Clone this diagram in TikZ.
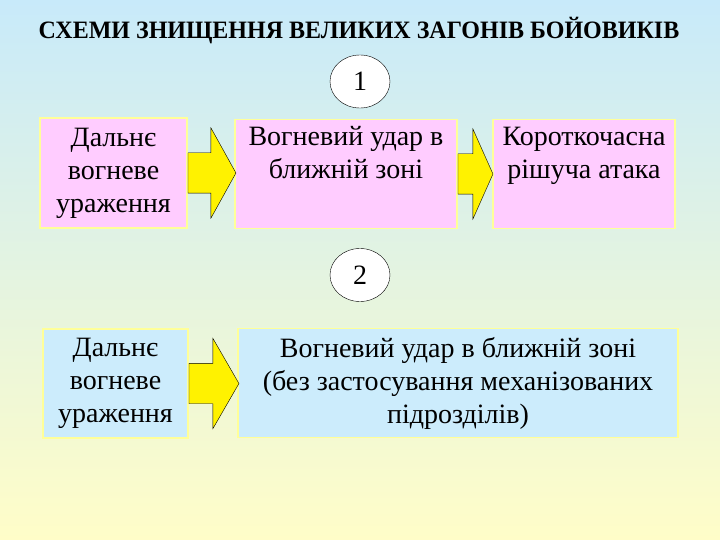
\documentclass[tikz,border=0pt]{standalone}
\usepackage{fontspec}
\setmainfont{Liberation Serif}
\usetikzlibrary{shapes.arrows,shapes.geometric}

\definecolor{bgtop}{RGB}{200,234,250}
\definecolor{bgbot}{RGB}{255,253,200}
\definecolor{boxpink}{RGB}{255,204,255}
\definecolor{boxblue}{RGB}{204,236,252}
\definecolor{boxrim}{RGB}{255,255,153}

\begin{document}
\begin{tikzpicture}[x=1pt,y=-1pt,
	every node/.style={inner sep=0pt},
	scheme/.style={draw=boxrim, line width=1.5pt, align=center, font=\fontsize{28}{33}\selectfont},
	pinkbox/.style={scheme, fill=boxpink},
	bluebox/.style={scheme, fill=boxblue},
	stage/.style={ellipse, draw, thin, fill=white, minimum width=60pt, minimum height=53pt, font=\fontsize{28}{33}\selectfont},
	fatarrow/.style={single arrow, draw=black, thin, fill=yellow, anchor=tail, inner xsep=0pt, inner ysep=20pt, single arrow head extend=25pt}]
	\shade[top color=bgtop, bottom color=bgbot] (0,0) rectangle (720,540);
	\useasboundingbox (0,0) rectangle (720,540);
	\node[font=\fontsize{25}{30}\selectfont\bfseries] (title) at (359,31) {\scalebox{0.96}[1]{СХЕМИ ЗНИЩЕННЯ ВЕЛИКИХ ЗАГОНІВ БОЙОВИКІВ}};
	\node[stage] (one) at (360,81.5) {1};
	\node[pinkbox, minimum width=147pt, minimum height=110pt] (far1) at (113.5,173) {Дальнє\\вогневе\\ураження};
	\node[pinkbox, minimum width=222pt, minimum height=109pt] (near1) at (346,174) {Вогневий удар в\\ближній зоні\\\strut};
	\node[pinkbox, minimum width=182pt, minimum height=109pt] (attack) at (584,174) {Короткочасна\\рішуча атака\\\strut};
	\node[stage] (two) at (360,275) {2};
	\node[bluebox, minimum width=145pt, minimum height=109pt] (far2) at (115.5,383.5) {Дальнє\\вогневе\\ураження};
	\node[bluebox, minimum width=440pt, minimum height=109pt] (near2) at (458,383) {Вогневий удар в ближній зоні\\(без застосування механізованих\\підрозділів)};
	\node[fatarrow, minimum height=48pt, single arrow tip angle=122] (go1) at (far1.east) {};
	\node[fatarrow, minimum height=35pt, single arrow tip angle=132] (go2) at (near1.east) {};
	\node[fatarrow, minimum height=50pt, single arrow tip angle=120] (go3) at (far2.east) {};
\end{tikzpicture}
\end{document}
